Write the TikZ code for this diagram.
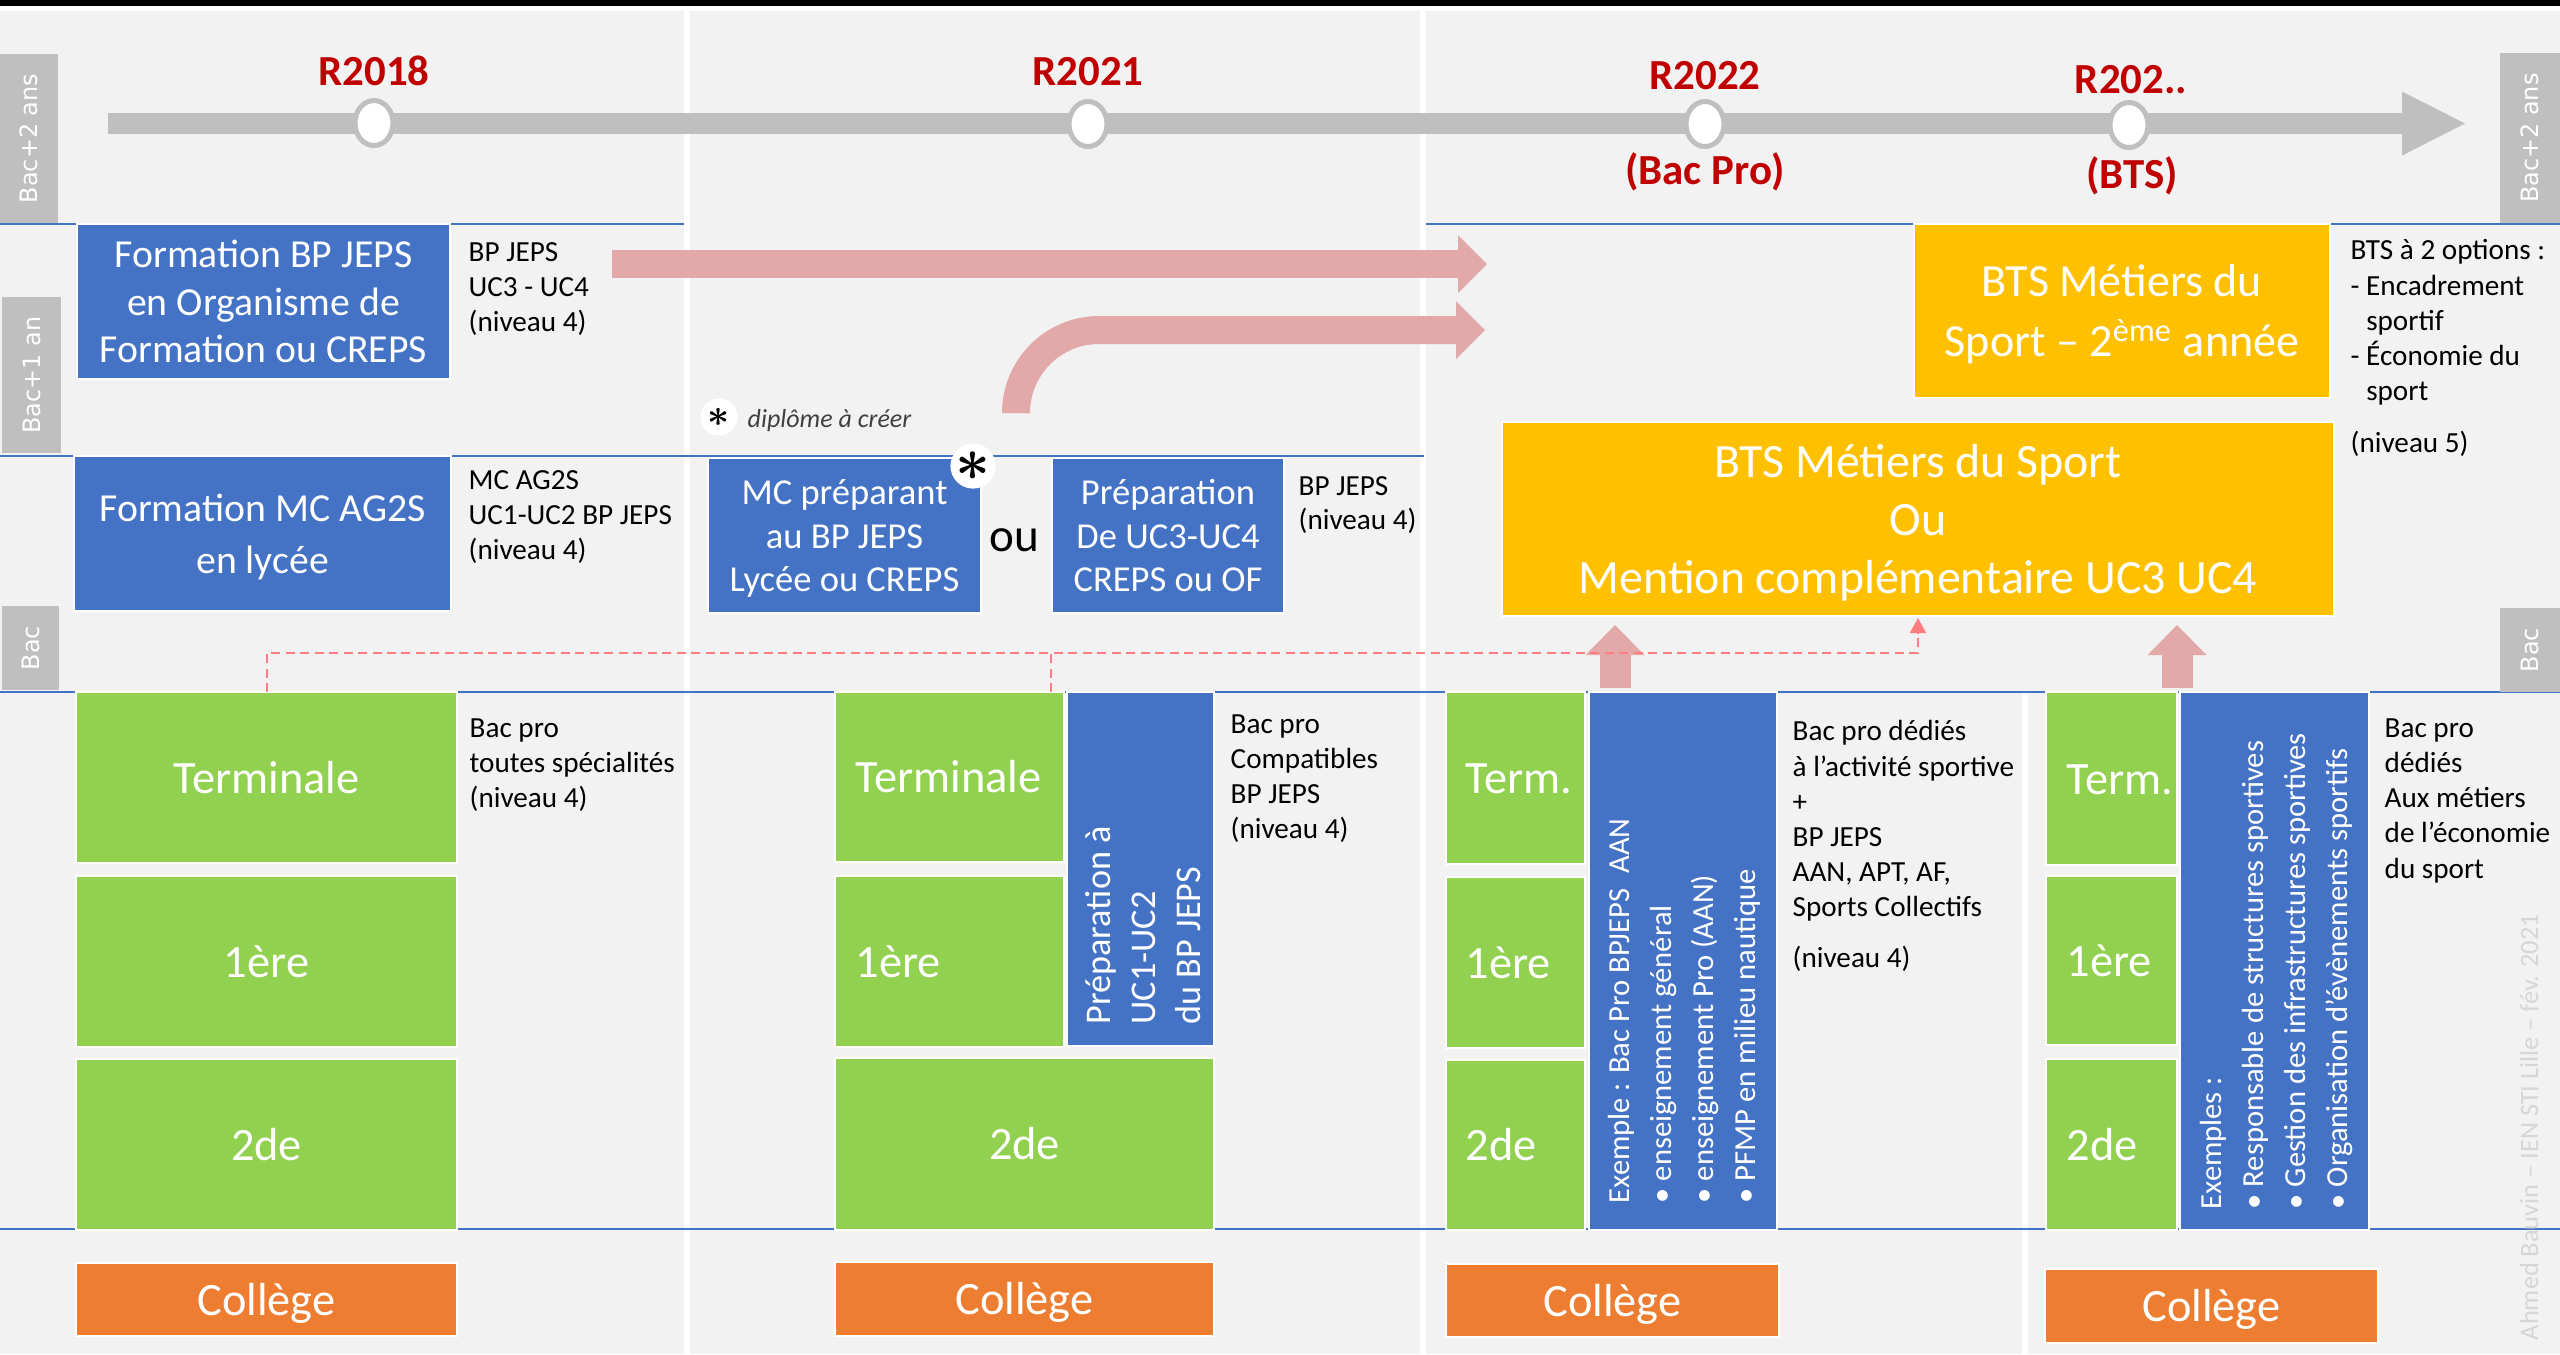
\documentclass[tikz,border=0pt]{standalone}
\usepackage{amsmath}
\usepackage{fontspec}
\setmainfont{Carlito}
\newfontfamily\sidefont{DejaVu Sans}
\usetikzlibrary{shapes.geometric,arrows.meta}
\definecolor{boxblue}{HTML}{4472C4}
\definecolor{boxgreen}{HTML}{92D050}
\definecolor{boxorange}{HTML}{ED7D31}
\definecolor{boxyellow}{HTML}{FFC000}
\definecolor{panel}{HTML}{F2F2F2}
\definecolor{linegray}{HTML}{BFBFBF}
\definecolor{yearred}{HTML}{C00000}
\definecolor{arrowpink}{HTML}{E3A9A9}
\definecolor{dashred}{HTML}{FF7C80}
\definecolor{notegray}{HTML}{404040}
\definecolor{wmgray}{HTML}{D6D6D6}
\newcommand{\linestrut}{\rule[-0.269em]{0pt}{1.221em}}
\begin{document}
\begin{tikzpicture}[x=0.1mm,y=-0.1mm]
  \tikzstyle{box}=[rectangle, draw=white, line width=0.2mm, inner sep=0pt, outer sep=0pt, align=center, text=white]
  \tikzstyle{bluebox}=[box, fill=boxblue]
  \tikzstyle{greenbox}=[box, fill=boxgreen, font=\fontsize{13.2}{15}\selectfont, execute at begin node=\linestrut]
  \tikzstyle{orangebox}=[box, fill=boxorange, font=\fontsize{13.2}{15}\selectfont, execute at begin node=\linestrut]
  \tikzstyle{yellowbox}=[box, fill=boxyellow]
  \tikzstyle{boxlbl}=[anchor=west, inner sep=0pt, text=white, font=\fontsize{13.2}{15}\selectfont, execute at begin node=\linestrut]
  \tikzstyle{sidetext}=[anchor=north west, align=left, inner sep=0pt, font=\fontsize{8.3}{10}\selectfont]
  \tikzstyle{vtext}=[anchor=west, rotate=90, align=left, inner sep=0pt, text=white]
  \tikzstyle{levellbl}=[rectangle, fill=linegray, text=white, rotate=90, inner sep=0pt, outer sep=0pt, font=\sidefont\fontsize{6.8}{8}\selectfont]
  \tikzstyle{milestone}=[ellipse, draw=linegray, fill=white, line width=0.5mm, minimum width=3.8mm, minimum height=4.5mm, inner sep=0pt]
  \tikzstyle{yearlbl}=[text=yearred, inner sep=0pt, font=\bfseries\fontsize{12.2}{14}\selectfont]
  \tikzstyle{levelline}=[draw=boxblue, line width=0.15mm]
  \tikzstyle{pinkarrow}=[draw=arrowpink, line width=2.8mm, -{Triangle[width=5.8mm,length=2.9mm,line width=0pt]}]
  \tikzstyle{uparrow}=[draw=arrowpink, line width=3.1mm, -{Triangle[width=5.9mm,length=3mm,line width=0pt]}]
  \tikzstyle{dashlink}=[draw=dashred, line width=0.2mm, dash pattern=on 0.9mm off 0.55mm]
  \tikzstyle{stardot}=[circle, fill=white, inner sep=0pt]
  \useasboundingbox (0,0) rectangle (2560,1354);
  \fill[white] (0,0) rectangle (2560,1354);
  \fill[panel] (0,11) rectangle (684,1354);
  \fill[panel] (690,11) rectangle (1420,1354);
  \fill[panel] (1426,11) rectangle (2560,1354);
  \fill[white] (2022,692) rectangle (2028,1354);
  \fill[black] (0,0) rectangle (2560,6);
  \draw[levelline] (0,224) -- (684,224);
  \draw[levelline] (1426,224) -- (2560,224);
  \draw[levelline] (0,456) -- (1424,456);
  \draw[levelline] (0,692) -- (2560,692);
  \draw[levelline] (0,1229) -- (2560,1229);
  % levels
  \node[levellbl, minimum width=16.9mm, minimum height=5.8mm] (lvlTwoL) at (29,138.5) {Bac+2 ans};
  \node[levellbl, minimum width=15.6mm, minimum height=5.9mm] (lvlOneL) at (31.5,375) {Bac+1 an};
  \node[levellbl, minimum width=8.4mm, minimum height=5.7mm] (lvlBacL) at (30.5,648) {Bac};
  \node[levellbl, minimum width=17mm, minimum height=6mm] (lvlTwoR) at (2530,138) {Bac+2 ans};
  \node[levellbl, minimum width=8.4mm, minimum height=6mm] (lvlBacR) at (2530,650) {Bac};
  % timeline
  \coordinate (tStart) at (108,123.5);
  \coordinate (tEnd) at (2465,123.5);
  \draw[draw=linegray, line width=2.1mm, -{Triangle[width=6.4mm,length=6.3mm,line width=0pt]}] (tStart) -- (tEnd);
  \node[milestone] (m18) at (374,123) {};
  \node[milestone] (m21) at (1088,124) {};
  \node[milestone] (m22) at (1705,124) {};
  \node[milestone] (mBTS) at (2129,125) {};
  \node[yearlbl] (y18) at (374,71) {R2018};
  \node[yearlbl] (y21) at (1088,72) {R2021};
  \node[yearlbl] (y22) at (1705,76) {R2022};
  \node[yearlbl] (yBTS) at (2131,80) {R202..};
  \node[yearlbl] (y22sub) at (1705,172) {(Bac Pro)};
  \node[yearlbl] (yBTSsub) at (2132,176) {(BTS)};
  % pink arrows
  \coordinate (bpFrom) at (612,264);
  \coordinate (bpTo) at (1487,264);
  \coordinate (mcFrom) at (1016,413);
  \coordinate (mcTo) at (1485,330);
  \draw[pinkarrow] (bpFrom) -- (bpTo);
  \draw[pinkarrow, rounded corners=8.3mm] (mcFrom) -- (mcFrom |- mcTo) -- (mcTo);
  % upper boxes
  \node[bluebox, minimum width=37.3mm, minimum height=15.5mm, font=\fontsize{11.3}{13.5}\selectfont] (formBP) at (263.5,301.5) {\linestrut Formation BP JEPS\\en Organisme de\\Formation ou CREPS\linestrut};
  \node[bluebox, minimum width=37.7mm, minimum height=15.5mm, font=\fontsize{11.3}{13.6}\selectfont] (formMC) at (262.5,533.5) {\linestrut Formation MC AG2S\\en lycée\linestrut};
  \node[bluebox, minimum width=27.3mm, minimum height=15.5mm, font=\fontsize{10.4}{12.5}\selectfont] (mcPrep) at (844.5,535.5) {\linestrut MC préparant\\au BP JEPS\\Lycée ou CREPS\linestrut};
  \node[bluebox, minimum width=23.2mm, minimum height=15.5mm, font=\fontsize{10.4}{12.5}\selectfont] (ucPrep) at (1168,535.5) {\linestrut Préparation\\De UC3-UC4\\CREPS ou OF\linestrut};
  \node[font=\fontsize{13.4}{15}\selectfont, inner sep=0pt] (orLbl) at (1014,540) {ou};
  \node[yellowbox, minimum width=41.6mm, minimum height=17.4mm, font=\fontsize{13.1}{15.9}\selectfont] (btsSecond) at (2122,311) {\linestrut BTS Métiers du\\Sport – 2\textsuperscript{ème} année\linestrut};
  \node[yellowbox, minimum width=83.2mm, minimum height=19.4mm, font=\fontsize{13.6}{16.5}\selectfont] (btsMC) at (1918,519) {\linestrut BTS Métiers du Sport\\Ou\\Mention complémentaire UC3 UC4\linestrut};
  \node[stardot, minimum size=3.7mm] (noteStar) at (719,417) {\fontsize{10.8}{12}\selectfont$\boldsymbol{\ast}$};
  \node[anchor=west, inner sep=0pt, text=notegray, font=\itshape\fontsize{7.4}{9}\selectfont] (noteTxt) at (747,421) {diplôme à créer};
  \node[stardot, minimum size=4.3mm] (newStar) at (973,466) {\fontsize{16}{18}\selectfont$\boldsymbol{\ast}$};
  % side texts
  \node[sidetext] (bpInfo) at (468,242) {BP JEPS\\UC3 - UC4\\(niveau 4)};
  \node[sidetext] (mcInfo) at (468,470) {MC AG2S\\UC1-UC2 BP JEPS\\(niveau 4)};
  \node[sidetext, font=\fontsize{8.3}{9.5}\selectfont] (ucInfo) at (1298,476) {BP JEPS\\(niveau 4)};
  \node[sidetext] (btsInfo) at (2350,239) {BTS à 2 options :\\- Encadrement\\\phantom{-~}sportif\\- Économie du\\\phantom{-~}sport\\[1.7mm](niveau 5)};
  \node[sidetext] (bac18Info) at (469,718) {Bac pro\\toutes spécialités\\(niveau 4)};
  \node[sidetext] (bac21Info) at (1230,714) {Bac pro\\Compatibles\\BP JEPS\\(niveau 4)};
  \node[sidetext] (bac22Info) at (1792,720) {Bac pro dédiés\\à l’activité sportive\\+\\BP JEPS\\AAN, APT, AF,\\Sports Collectifs\\[1.6mm](niveau 4)};
  \node[sidetext] (bacBInfo) at (2384,718) {Bac pro\\dédiés\\Aux métiers\\de l’économie\\du sport};
  % R2018
  \node[greenbox, minimum width=38.1mm, minimum height=17.1mm] (term18) at (266.5,777.5) {Terminale};
  \node[greenbox, minimum width=38.1mm, minimum height=17.1mm] (prem18) at (266.5,961.5) {1ère};
  \node[greenbox, minimum width=38.1mm, minimum height=17.1mm] (sec18) at (266.5,1144.5) {2de};
  \node[orangebox, minimum width=38.1mm, minimum height=7.3mm] (coll18) at (266.5,1299.5) {Collège};
  % R2021
  \node[greenbox, minimum width=22.9mm, minimum height=17mm] (term21) at (949.5,777) {};
  \node[boxlbl] at ([xshift=2mm]term21.west) {Terminale};
  \node[greenbox, minimum width=22.9mm, minimum height=17.1mm] (prem21) at (949.5,961.5) {};
  \node[boxlbl] at ([xshift=2mm]prem21.west) {1ère};
  \node[bluebox, minimum width=14.7mm, minimum height=35.4mm] (prep21) at (1140.5,869) {};
  \node[vtext, font=\fontsize{10.3}{12.8}\selectfont] at (1143,1025) {Préparation à\\UC1-UC2\\du BP JEPS};
  \node[greenbox, minimum width=37.9mm, minimum height=17.2mm] (sec21) at (1024.5,1144) {2de};
  \node[orangebox, minimum width=37.9mm, minimum height=7.4mm] (coll21) at (1024.5,1299) {Collège};
  % R2022
  \node[greenbox, minimum width=13.9mm, minimum height=17.2mm] (term22) at (1515.5,778) {};
  \node[boxlbl] at ([xshift=1.9mm]term22.west) {Term.};
  \node[greenbox, minimum width=13.9mm, minimum height=17.1mm] (prem22) at (1515.5,962.5) {};
  \node[boxlbl] at ([xshift=1.9mm]prem22.west) {1ère};
  \node[greenbox, minimum width=13.9mm, minimum height=17mm] (sec22) at (1515.5,1145) {};
  \node[boxlbl] at ([xshift=1.9mm]sec22.west) {2de};
  \node[bluebox, minimum width=18.8mm, minimum height=53.8mm] (ex22) at (1683,961) {};
  \node[vtext, font=\fontsize{8.7}{12}\selectfont] at (1684.5,1204) {Exemple : Bac Pro BPJEPS\enspace AAN\\• enseignement général\\• enseignement Pro (AAN)\\• PFMP en milieu nautique};
  \node[orangebox, minimum width=33.3mm, minimum height=7.3mm] (coll22) at (1612.5,1300.5) {Collège};
  % R202..
  \node[greenbox, minimum width=13.1mm, minimum height=17.3mm] (termB) at (2111.5,778.5) {};
  \node[boxlbl] at ([xshift=2mm]termB.west) {Term.};
  \node[greenbox, minimum width=13.1mm, minimum height=16.9mm] (premB) at (2111.5,960.5) {};
  \node[boxlbl] at ([xshift=2mm]premB.west) {1ère};
  \node[greenbox, minimum width=13.1mm, minimum height=17.1mm] (secB) at (2111.5,1144.5) {};
  \node[boxlbl] at ([xshift=2mm]secB.west) {2de};
  \node[bluebox, minimum width=18.9mm, minimum height=53.8mm] (exB) at (2274.5,961) {};
  \node[vtext, font=\fontsize{8.7}{12}\selectfont] at (2276.5,1210) {Exemples :\\• Responsable de structures sportives\\• Gestion des infrastructures sportives\\• Organisation d’évènements sportifs};
  \node[orangebox, minimum width=33.3mm, minimum height=7.4mm] (collB) at (2211.5,1306) {Collège};
  % links
  \coordinate (upA) at (1615,688);
  \coordinate (upB) at (2177,688);
  \draw[uparrow, shorten >=0.9mm] (upA) -- (upA |- btsMC.south);
  \draw[uparrow, shorten >=0.9mm] (upB) -- (upB |- btsMC.south);
  \coordinate (dashRow) at (0,653);
  \coordinate (term21dash) at (1051,692);
  \draw[dashlink, -{Triangle[width=1.6mm,length=1.5mm]}, shorten >=0.2mm] (term18.north) -- (term18.north |- dashRow) -- (dashRow -| btsMC.south) -- (btsMC.south);
  \draw[dashlink] (term21dash) -- (term21dash |- dashRow);
  \node[rotate=90, inner sep=0pt, text=wmgray, font=\fontsize{7.5}{9}\selectfont] (credit) at (2529,1127) {Ahmed Bauvin – IEN STI Lille – fév. 2021};
\end{tikzpicture}
\end{document}
